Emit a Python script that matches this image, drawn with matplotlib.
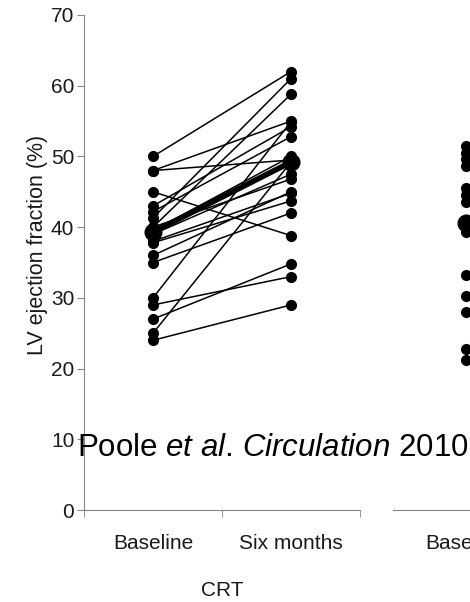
import matplotlib
matplotlib.use("Agg")
import matplotlib.pyplot as plt

plt.rcParams['font.family'] = ['Liberation Sans', 'DejaVu Sans']
plt.rcParams['mathtext.fontset'] = 'custom'
plt.rcParams['mathtext.rm'] = 'Liberation Sans'
plt.rcParams['mathtext.it'] = 'Liberation Sans:italic'

# CRT group: paired values (baseline -> six months)
crt_baseline = [50, 48, 48, 45, 43, 42.2, 41.3, 40, 40, 39.5, 39, 38, 37.8, 36, 35, 30, 29, 27, 25, 24]
crt_six_months = [62, 55, 49.5, 38.8, 54.2, 52.8, 61, 58.8, 46.8, 50, 47.5, 44.8, 43.7, 45, 42, 54.9, 33, 34.8, 49.2, 29]
crt_mean = [39.3, 49.2]

# second group (only baseline visible, cut off at right edge)
grp2_baseline = [51.5, 50.5, 49.6, 48.6, 45.5, 44.6, 43.6, 41.0, 40.2, 39.3, 33.2, 30.3, 28.0, 22.8, 21.2]
grp2_mean = 40.6

categories = ['Baseline', 'Six months']
yticks = [0, 10, 20, 30, 40, 50, 60, 70]

W, H = 470, 602
fig = plt.figure(figsize=(W / 100, H / 100), dpi=100)

spine_col = '#868686'
txt_col = '#1a1a1a'

def px_axes(left, right, top, bottom):
    return fig.add_axes([left / W, 1 - bottom / H, (right - left) / W, (bottom - top) / H])

ax1 = px_axes(84, 360, 15, 510)
ax2 = px_axes(393, 669, 15, 510)

for ax in (ax1, ax2):
    ax.set_ylim(0, 70)
    for s in ('top', 'right'):
        ax.spines[s].set_visible(False)
    ax.spines['bottom'].set_color(spine_col)
    ax.spines['left'].set_color(spine_col)
    ax.set_xticks([1, 2])
    ax.tick_params(axis='x', which='major', length=0, pad=17, labelsize=15, labelcolor=txt_col)
    ax.tick_params(axis='x', which='minor', length=5, color=spine_col, direction='out')
    ax.set_xticklabels(categories)

ax1.set_xlim(0.5, 2.5)
ax2.set_xlim(0.464, 2.464)
ax1.set_xticks([0.5, 1.5, 2.5], minor=True)
ax2.set_xticks([1.5, 2.5], minor=True)

ax1.set_yticks(yticks)
ax1.tick_params(axis='y', length=5, color=spine_col, labelsize=15, labelcolor=txt_col, pad=2)
ax2.spines['left'].set_visible(False)
ax2.set_yticks([])

# paired lines
for b, s in zip(crt_baseline, crt_six_months):
    ax1.plot([1, 2], [b, s], color='black', lw=1.1, marker='o', ms=7, clip_on=False, zorder=3)
ax1.plot([1, 2], crt_mean, color='black', lw=4, marker='o', ms=12, clip_on=False, zorder=4)

ax2.plot([1] * len(grp2_baseline), grp2_baseline, 'o', color='black', ms=7, clip_on=False, zorder=3)
ax2.plot([1], [grp2_mean], 'o', color='black', ms=12, clip_on=False, zorder=4)

fig.text(38 / W, 1 - 245 / H, 'LV ejection fraction (%)', rotation=90, ha='center', va='center',
         fontsize=15.5, color=txt_col)
fig.text(222 / W, 1 - 590 / H, 'CRT', ha='center', va='center', fontsize=15, color=txt_col)

fig.text(77 / W, 1 - 448 / H, r'Poole $\mathit{et\ al}$. $\mathit{Circulation}$ 2010',
         ha='left', va='center', fontsize=22.5, color='black')

fig.savefig('out.png', dpi=100)
